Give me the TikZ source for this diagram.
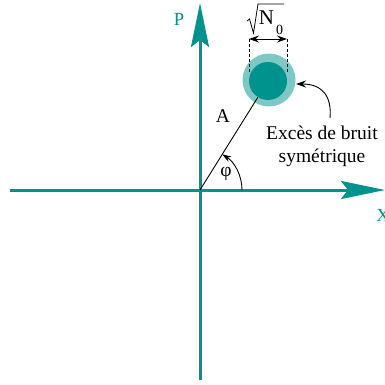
\documentclass[tikz,border=0pt]{standalone}
\usepackage{fontspec}
\setmainfont{Liberation Serif}
\usetikzlibrary{arrows.meta}
\definecolor{tealdark}{RGB}{0,146,140}
\definecolor{teallight}{RGB}{125,200,198}
\tikzset{
  axis/.style={draw=tealdark, line width=3pt, -{Stealth[length=44pt,width=18pt,inset=7pt]}},
  axislab/.style={text=tealdark, font=\fontsize{18.5}{21}\selectfont},
  lab/.style={font=\fontsize{19.5}{23}\selectfont},
  thin/.style={draw=black, line width=0.9pt},
  dashline/.style={draw=black, line width=0.9pt, dash pattern=on 3pt off 2pt},
  smalltip/.style={-{Stealth[length=10pt,width=7pt]}}
}
\begin{document}
\begin{tikzpicture}[x=1pt,y=-1pt]
\useasboundingbox (0,0) rectangle (385,385);
% axes
\coordinate (O) at (200,190);
\coordinate (xl) at (10,190);
\coordinate (xr) at (385,190);
\coordinate (yb) at (200,380);
\coordinate (yt) at (200,3);
\draw[axis] (xl) -- (xr);
\draw[axis] (yb) -- (yt);
\node[axislab] (P) at (179,19) {P};
\node[axislab] (X) at (383,215) {X};
% noise blob
\node[circle, fill=teallight, minimum size=53pt, inner sep=0pt] (blob) at (269,80) {};
\node[circle, fill=tealdark, minimum size=38pt, inner sep=0pt] (core) at (268,81) {};
% amplitude
\draw[thin] (O) -- (core);
\node[lab] (A) at (223,116) {A};
\draw[thin, -{Stealth[length=9pt,width=6pt]}] (242,190) arc[start angle=0, end angle=-58, radius=42];
\node[lab] (phi) at (226,174) {φ};
% width marker
\coordinate (dl) at (249,39);
\coordinate (dr) at (287,39);
\coordinate (dlb) at (249,73);
\coordinate (drb) at (287,73);
\draw[dashline] (dl) -- (dlb);
\draw[dashline] (dr) -- (drb);
\draw[thin, {Stealth[length=10pt,width=7pt]}-{Stealth[length=10pt,width=7pt]}] (dl) -- (dr);
% sqrt(N_0) label
\node[font=\fontsize{21}{21}\selectfont, inner sep=0pt] (N) at (266.5,17.5) {N};
\node[font=\fontsize{14}{14}\selectfont, inner sep=0pt] (zero) at (279.5,29.5) {0};
\draw[line width=0.8pt] (247,21) -- (249.5,19) -- (253.5,33) -- (258,4) -- (284,4);
% callout
\node[lab, align=center, inner sep=0pt] (txt) at (322,146) {Excès de bruit\\symétrique};
\coordinate (ct) at (330,118);
\coordinate (ce) at (296,84);
\draw[thin, smalltip] (ct) .. controls (332,96) and (322,84) .. (ce);
\end{tikzpicture}
\end{document}
